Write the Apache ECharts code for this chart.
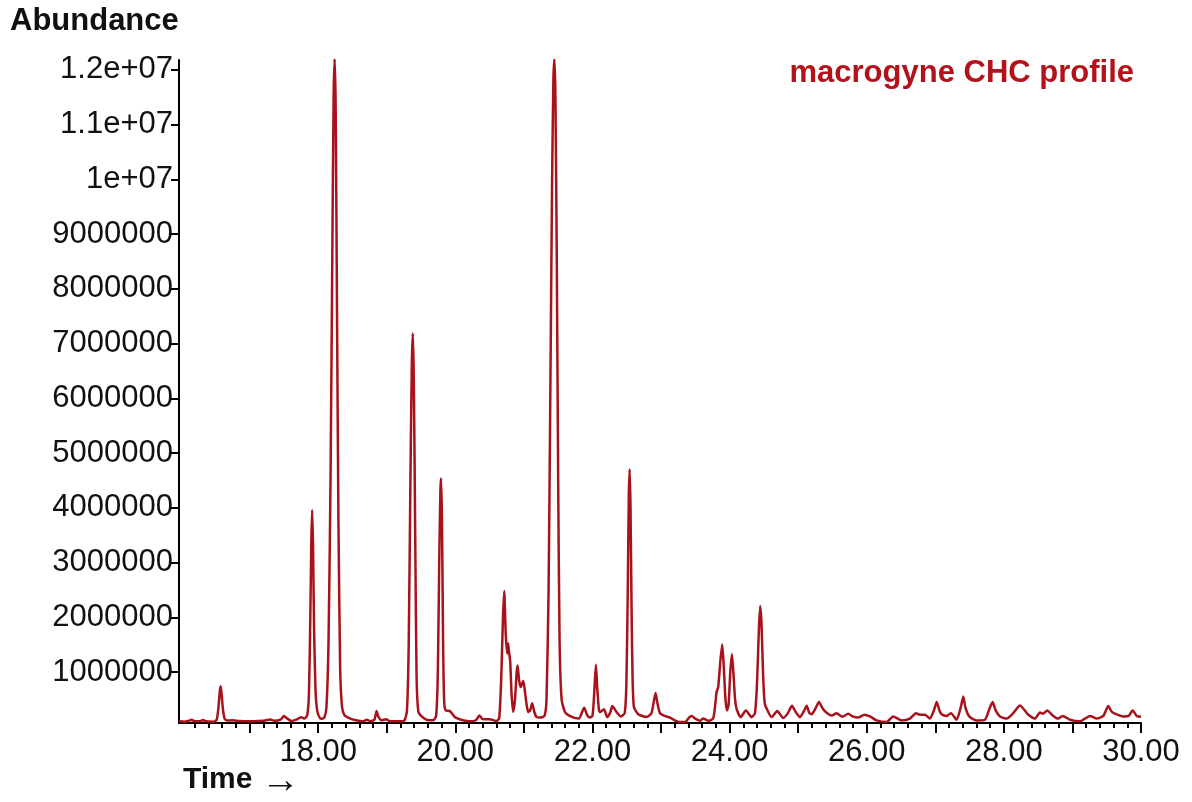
<!DOCTYPE html>
<html>
<head>
<meta charset="utf-8">
<script src="https://cdn.jsdelivr.net/npm/echarts@6/dist/echarts.min.js"></script>
<style>
html,body{margin:0;padding:0;background:#fff;}
#chart{width:1192px;height:802px;}
</style>
</head>
<body>
<div id="chart"></div>
<script>
// Retention time (min) and abundance
var timeMin = [
15.97,16.05,16.12,16.15,16.19,16.28,16.32,16.36,16.48,16.52,16.545,16.565,16.578,16.59,16.61,16.635,16.67,16.75,16.85,17.0,
17.1,17.2,17.3,17.36,17.45,17.5,17.55,17.61,17.68,17.75,17.8,17.84,17.865,17.885,17.9,17.912,17.925,17.94,17.96,17.985,
18.02,18.05,18.09,18.12,18.15,18.18,18.205,18.225,18.24,18.255,18.275,18.295,18.32,18.345,18.38,18.46,18.55,18.65,18.71,18.76,
18.82,18.852,18.88,18.925,18.99,19.05,19.19,19.26,19.295,19.32,19.345,19.365,19.38,19.395,19.415,19.435,19.46,19.5,19.58,19.68,
19.72,19.745,19.765,19.782,19.792,19.805,19.822,19.838,19.86,19.92,19.995,20.11,20.21,20.3,20.35,20.4,20.5,20.6,20.64,20.67,
20.695,20.713,20.735,20.757,20.77,20.78,20.8,20.82,20.844,20.87,20.895,20.908,20.93,20.952,20.99,21.01,21.04,21.063,21.09,21.121,
21.15,21.186,21.24,21.3,21.33,21.36,21.385,21.41,21.43,21.445,21.46,21.48,21.5,21.52,21.55,21.6,21.7,21.8,21.88,21.92,
21.96,22.0,22.025,22.05,22.07,22.095,22.11,22.167,22.215,22.26,22.288,22.32,22.352,22.41,22.47,22.495,22.515,22.53,22.543,22.555,
22.57,22.585,22.605,22.668,22.79,22.86,22.9,22.921,22.945,22.984,23.05,23.13,23.2,23.276,23.35,23.41,23.446,23.5,23.567,23.616,
23.69,23.76,23.79,23.81,23.834,23.865,23.893,23.915,23.94,23.962,23.985,24.01,24.034,24.055,24.08,24.103,24.161,24.238,24.32,24.37,
24.4,24.425,24.445,24.465,24.49,24.51,24.53,24.613,24.695,24.783,24.85,24.91,24.96,25.026,25.09,25.124,25.16,25.197,25.25,25.303,
25.36,25.415,25.488,25.561,25.643,25.73,25.803,25.876,25.964,26.047,26.144,26.29,26.387,26.51,26.63,26.718,26.776,26.85,26.92,26.98,
27.02,27.06,27.093,27.166,27.228,27.311,27.37,27.408,27.44,27.495,27.6,27.724,27.79,27.836,27.88,27.943,28.04,28.137,28.235,28.356,
28.453,28.526,28.575,28.633,28.72,28.793,28.857,28.964,29.11,29.256,29.353,29.45,29.523,29.57,29.62,29.742,29.82,29.879,29.937,30.0
];
var abundance = [
100000,95000,110000,130000,105000,100000,125000,100000,95000,130000,350000,650000,740000,620000,330000,150000,115000,120000,105000,100000,
105000,110000,135000,110000,130000,196000,150000,105000,130000,177000,150000,210000,600000,2000000,3400000,3960000,3300000,1800000,700000,300000,
170000,148000,170000,350000,1500000,4500000,8500000,11500000,12200000,11300000,7500000,3800000,1100000,400000,220000,155000,120000,100000,130000,100000,
130000,287000,180000,120000,140000,100000,100000,120000,300000,1500000,4500000,6600000,7190000,6300000,3500000,900000,280000,200000,130000,120000,
200000,1000000,3000000,4300000,4540000,3800000,1500000,450000,300000,287000,177000,120000,100000,120000,208000,140000,140000,105000,160000,900000,
2000000,2480000,1700000,1340000,1520000,1400000,1200000,600000,269000,500000,1000000,1120000,850000,726000,836000,700000,400000,269000,300000,433000,
280000,177000,170000,200000,500000,2500000,6000000,9800000,11800000,12200000,11500000,8500000,4500000,1600000,500000,270000,180000,150000,349000,220000,
170000,200000,600000,1135000,700000,300000,269000,322000,177000,260000,379000,330000,269000,190000,250000,800000,2500000,4200000,4706000,4000000,
2200000,900000,360000,230000,180000,250000,500000,617000,450000,250000,200000,170000,120000,86000,86000,170000,196000,150000,110000,150000,
110000,150000,400000,635000,726000,1200000,1506000,1100000,500000,300000,400000,1000000,1324000,1000000,500000,322000,177000,300000,177000,250000,
800000,1700000,2207000,1900000,900000,450000,360000,177000,287000,160000,250000,386000,280000,177000,300000,386000,260000,230000,330000,452000,
330000,258000,207000,250000,185000,240000,185000,170000,221000,190000,117000,87000,190000,117000,150000,250000,220000,221000,150000,300000,
452000,300000,230000,200000,250000,130000,350000,556000,350000,190000,117000,130000,330000,452000,300000,190000,150000,250000,391000,220000,
150000,260000,240000,300000,200000,150000,200000,130000,100000,200000,150000,200000,379000,280000,240000,190000,200000,300000,200000,185000
];
var yTickValues = [1000000,2000000,3000000,4000000,5000000,6000000,7000000,8000000,9000000,10000000,11000000,12000000];
var xMajorTicks = [17,18,19,20,21,22,23,24,25,26,27,28,29,30];
var xLabelValues = [18,20,22,24,26,28,30];
var chartTitle = 'macrogyne CHC profile';

var xMinorTicks = [];
for (var t = 16; t < 30; t++) {
  for (var k = 1; k < 5; k++) xMinorTicks.push(+(t + k * 0.2).toFixed(1));
}
var seriesData = timeMin.map(function (t, i) { return [t, abundance[i]]; });

var FONT = "'Liberation Sans', Arial, sans-serif";
var chart = echarts.init(document.getElementById('chart'), null, {renderer: 'canvas'});
chart.setOption({
  animation: false,
  backgroundColor: '#ffffff',
  grid: {left: 179, right: 51, top: 60, bottom: 79, containLabel: false},
  xAxis: [{
    type: 'value', min: 15.97, max: 30, position: 'bottom',
    axisLine: {show: true, onZero: false, lineStyle: {color: '#000', width: 2}},
    axisTick: {show: true, length: 10, customValues: xMajorTicks, lineStyle: {color: '#000', width: 2}},
    axisLabel: {show: true, customValues: xLabelValues, margin: 14, color: '#111', fontSize: 31, fontFamily: FONT,
      formatter: function (v) { return Number(v).toFixed(2); }},
    splitLine: {show: false}
  }, {
    type: 'value', min: 15.97, max: 30, position: 'bottom',
    axisLine: {show: false, onZero: false},
    axisTick: {show: true, length: 5, customValues: xMinorTicks, lineStyle: {color: '#000', width: 2}},
    axisLabel: {show: false},
    splitLine: {show: false}
  }],
  yAxis: {
    type: 'value', min: 70000, max: 12180000,
    axisLine: {show: true, onZero: false, lineStyle: {color: '#000', width: 2}},
    axisTick: {show: true, length: 8, customValues: yTickValues, lineStyle: {color: '#000', width: 2}},
    axisLabel: {show: true, customValues: yTickValues, margin: 6, color: '#111', fontSize: 31, fontFamily: FONT,
      formatter: function (v) {
        if (v >= 10000000) return parseFloat((v / 10000000).toFixed(2)) + 'e+07';
        return String(v);
      }},
    splitLine: {show: false}
  },
  graphic: [
    {type: 'text', left: 10, top: 6, style: {text: 'Abundance', fontSize: 31, fontWeight: 'bold', fontFamily: FONT, fill: '#111'}},
    {type: 'text', left: 183, top: 765, style: {text: 'Time', fontSize: 30, fontWeight: 'bold', fontFamily: FONT, fill: '#111'}},
    {type: 'text', left: 261, top: 762, style: {text: '→', fontSize: 39, fontFamily: FONT, fill: '#111'}},
    {type: 'text', right: 58, top: 58, style: {text: chartTitle, fontSize: 31, fontWeight: 'bold', fontFamily: FONT, fill: '#b3121b'}}
  ],
  series: [{
    type: 'line', xAxisIndex: 0, data: seriesData, showSymbol: false, smooth: 0.2,
    lineStyle: {color: '#a8121a', width: 2.5}, clip: true
  }]
});
</script>
</body>
</html>
